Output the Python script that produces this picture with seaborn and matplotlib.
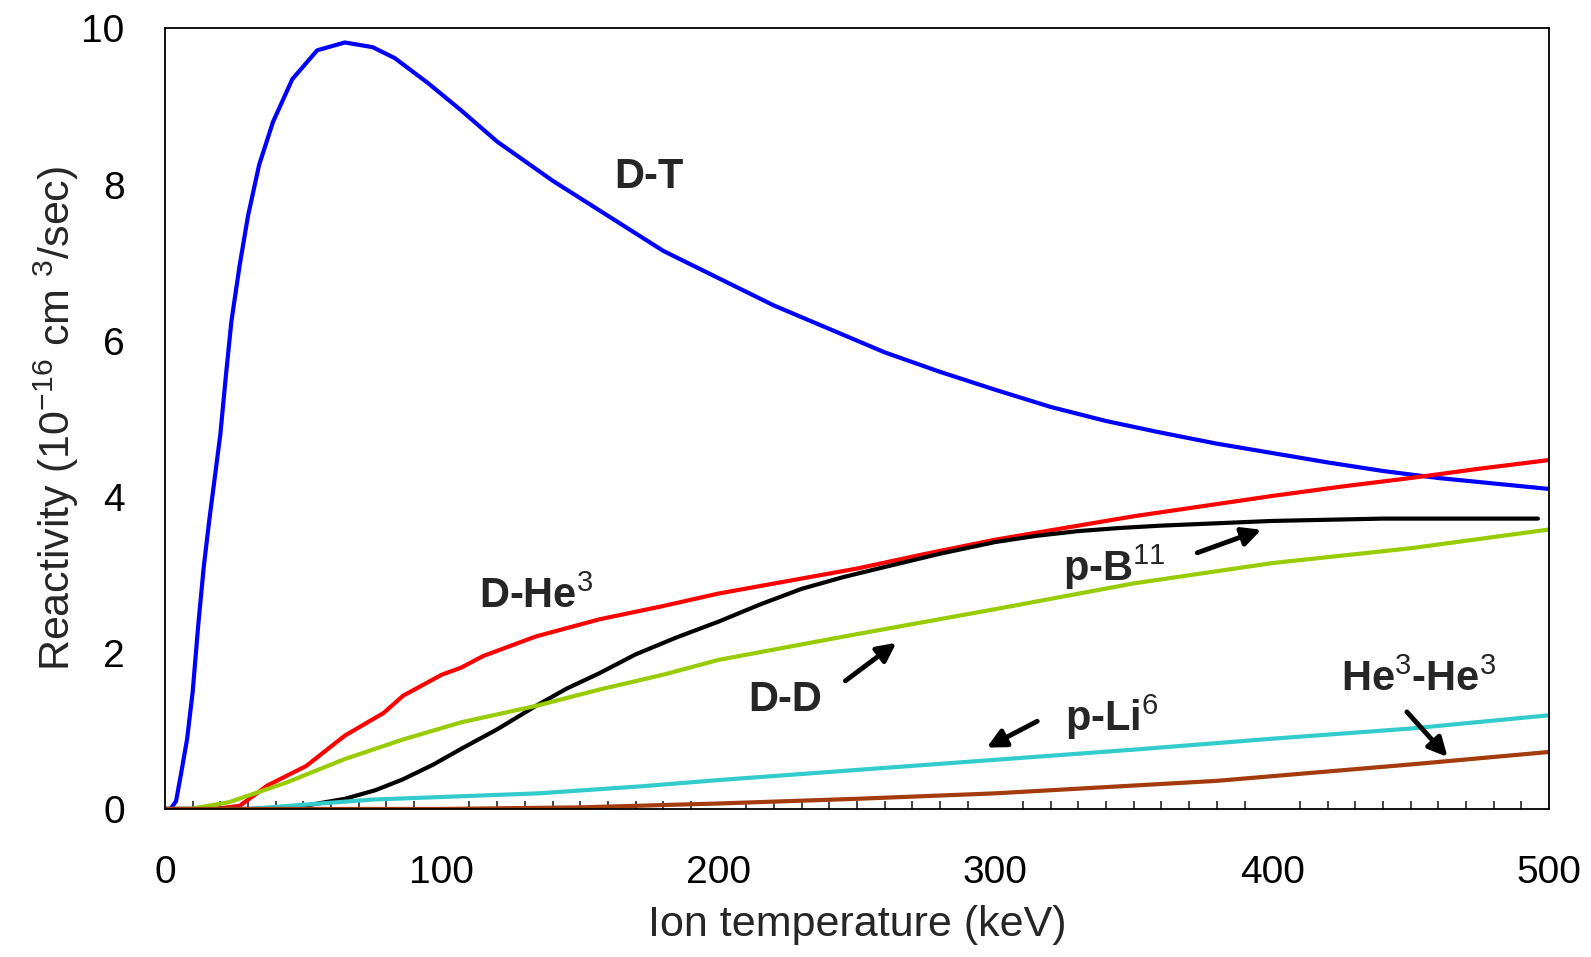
import matplotlib
matplotlib.use("Agg")
import matplotlib.pyplot as plt
import seaborn as sns
import pandas as pd
from matplotlib.ticker import MultipleLocator

# Reactivity curves, T in keV, <sigma v> in 1e-16 cm^3/s
dt_T = [0, 2, 4, 6, 8, 10, 12, 14, 16, 18, 20, 22, 24, 27, 30, 34, 39, 46, 55, 65, 75, 83, 95,
        107, 120, 140, 160, 180, 200, 220, 240, 260, 280, 300, 320, 340, 360, 380, 400, 420,
        440, 460, 480, 500]
dt_R = [0, 0.0, 0.1, 0.49, 0.9, 1.5, 2.35, 3.1, 3.7, 4.25, 4.8, 5.55, 6.25, 6.97, 7.6, 8.25, 8.8,
        9.35, 9.72, 9.82, 9.76, 9.62, 9.3, 8.95, 8.55, 8.05, 7.6, 7.15, 6.8, 6.45, 6.15, 5.85, 5.6,
        5.37, 5.15, 4.97, 4.82, 4.68, 4.56, 4.44, 4.33, 4.24, 4.17, 4.1]

dhe3_T = [0, 18, 27, 37, 51, 65, 79, 86, 100, 107, 115, 134, 157, 180, 200, 225, 250, 275, 300,
          325, 350, 375, 400, 425, 450, 475, 500]
dhe3_R = [0, 0, 0.04, 0.3, 0.55, 0.94, 1.23, 1.45, 1.72, 1.81, 1.96, 2.21, 2.43, 2.6, 2.76, 2.92,
          3.08, 3.27, 3.45, 3.6, 3.75, 3.88, 4.01, 4.13, 4.24, 4.36, 4.47]

pb11_T = [0, 45, 52, 65, 76, 86, 97, 107, 120, 134, 145, 157, 170, 185, 200, 215, 230, 245, 260,
          280, 300, 315, 330, 345, 360, 380, 400, 440, 496]
pb11_R = [0, 0, 0.05, 0.13, 0.24, 0.38, 0.57, 0.77, 1.02, 1.32, 1.54, 1.74, 1.98, 2.2, 2.4, 2.62,
          2.82, 2.97, 3.1, 3.27, 3.42, 3.5, 3.56, 3.6, 3.63, 3.66, 3.69, 3.72, 3.72]

dd_T = [0, 9, 23, 44, 65, 86, 107, 134, 157, 180, 200, 250, 300, 350, 400, 450, 500]
dd_R = [0, 0, 0.085, 0.34, 0.64, 0.89, 1.11, 1.32, 1.53, 1.72, 1.91, 2.24, 2.56, 2.89, 3.15, 3.34, 3.58]

pli6_T = [0, 30, 75, 135, 172, 200, 250, 300, 350, 400, 450, 500]
pli6_R = [0, 0, 0.12, 0.2, 0.29, 0.37, 0.5, 0.63, 0.76, 0.9, 1.03, 1.2]

he3he3_T = [0, 100, 150, 200, 250, 300, 350, 380, 400, 450, 500]
he3he3_R = [0, 0, 0.02, 0.07, 0.13, 0.2, 0.3, 0.36, 0.42, 0.57, 0.73]

reactions = ["D-T", "D-He3", "p-B11", "D-D", "p-Li6", "He3-He3"]
colors = ["#0000ff", "#ff0000", "#000000", "#99cc00", "#33cccc", "#a33b0c"]

# curve labels: text, text position, arrow tail, arrow head (None = no arrow)
labels = [r"D-T", r"D-He$^{3}$", r"p-B$^{11}$", r"D-D", r"p-Li$^{6}$", r"He$^{3}$-He$^{3}$"]
label_xy = [(175, 8.1), (134, 2.72), (343, 3.1), (224, 1.4), (342, 1.18), (453, 1.66)]
arrow_from = [None, None, (372, 3.27), (245, 1.62), (316, 1.14), (448, 1.27)]
arrow_to = [None, None, (397, 3.59), (265, 2.15), (296, 0.77), (464, 0.64)]

frames = []
for name, T, R in zip(reactions,
                      [dt_T, dhe3_T, pb11_T, dd_T, pli6_T, he3he3_T],
                      [dt_R, dhe3_R, pb11_R, dd_R, pli6_R, he3he3_R]):
    frames.append(pd.DataFrame({"T": T, "R": R, "reaction": name}))
df = pd.concat(frames, ignore_index=True)

sns.set_style("white")
plt.rcParams["font.family"] = ["Liberation Sans", "DejaVu Sans"]
plt.rcParams["mathtext.fontset"] = "custom"
plt.rcParams["mathtext.rm"] = "Liberation Sans"
plt.rcParams["mathtext.it"] = "Liberation Sans"
plt.rcParams["mathtext.bf"] = "Liberation Sans:bold"

fig = plt.figure(figsize=(15.91, 9.57), dpi=100)
ax = fig.add_axes([0.1037, 0.1547, 0.8699, 0.8156])

sns.lineplot(data=df, x="T", y="R", hue="reaction", hue_order=reactions,
             palette=dict(zip(reactions, colors)), estimator=None, sort=False,
             linewidth=3, legend=False, ax=ax)

ax.set_xlim(0, 500)
ax.set_ylim(0, 10)
ax.xaxis.set_major_locator(MultipleLocator(100))
ax.xaxis.set_minor_locator(MultipleLocator(10))
ax.yaxis.set_major_locator(MultipleLocator(2))
ax.tick_params(axis="both", which="major", direction="in", length=10, width=1.2,
               labelsize=28, colors="black")
ax.tick_params(axis="x", which="major", pad=33)
ax.tick_params(axis="y", which="major", pad=29)
ax.tick_params(axis="x", which="minor", direction="in", length=6, width=1.2, bottom=True)
for sp in ax.spines.values():
    sp.set_visible(True)
    sp.set_color("black")
    sp.set_linewidth(1.3)

ax.set_xlabel("Ion temperature (keV)", fontsize=31, labelpad=10)
ax.set_ylabel(r"Reactivity (10$^{-16}$ cm $^{3}$/sec)", fontsize=31, labelpad=0)

for txt, xy, a0, a1 in zip(labels, label_xy, arrow_from, arrow_to):
    ax.text(xy[0], xy[1], txt, fontsize=30, fontweight="bold", ha="center", va="center")
    if a0 is not None:
        ax.annotate("", xy=a1, xytext=a0,
                    arrowprops=dict(arrowstyle="-|>", color="black", lw=3.5, mutation_scale=28))

fig.savefig("out.png", dpi=100)
